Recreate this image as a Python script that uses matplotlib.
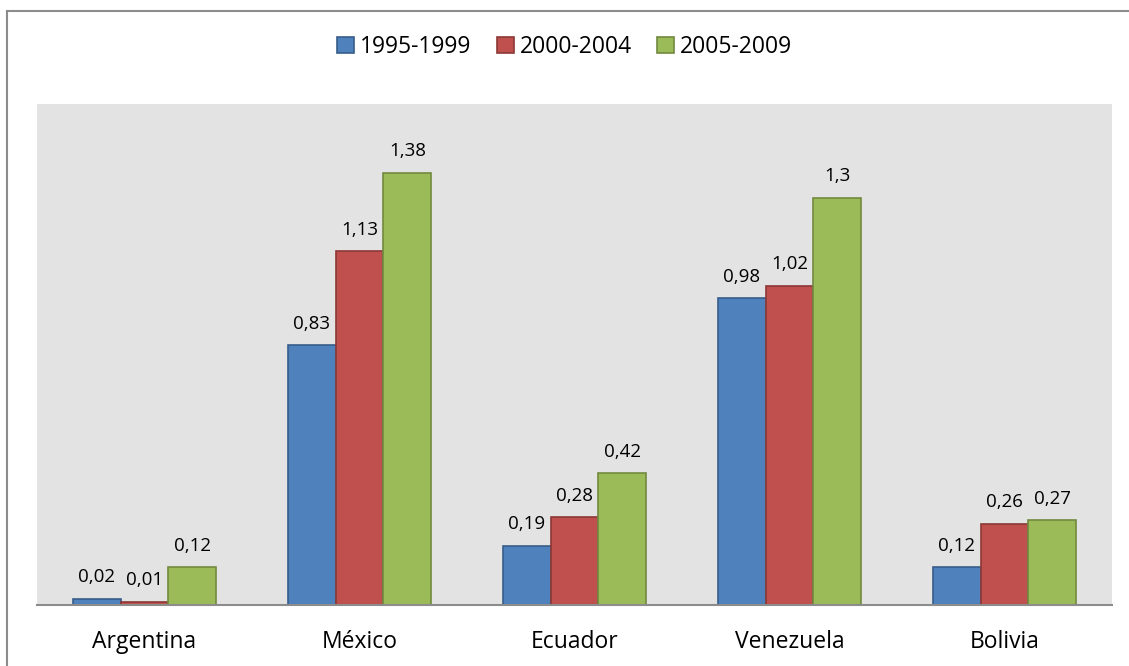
import numpy as np
import matplotlib.pyplot as plt
from matplotlib.lines import Line2D

countries = ['Argentina', 'México', 'Ecuador', 'Venezuela', 'Bolivia']
periods = ['1995-1999', '2000-2004', '2005-2009']
v1995 = [0.02, 0.83, 0.19, 0.98, 0.12]
v2000 = [0.01, 1.13, 0.28, 1.02, 0.26]
v2005 = [0.12, 1.38, 0.42, 1.30, 0.27]

fills = ['#4F81BD', '#C0504D', '#9BBB59']
edges = ['#385D8A', '#8C3836', '#71893F']

plt.rcParams['font.family'] = ['Open Sans', 'DejaVu Sans']

fig = plt.figure(figsize=(11.29, 6.66), dpi=100)
ax = fig.add_axes([37/1129, 1-605/666, 1075/1129, 501/666])
ax.set_facecolor('#E3E3E3')

x = np.arange(len(countries))
w = 0.223
for i, vals in enumerate([v1995, v2000, v2005]):
    bars = ax.bar(x + (i-1)*w, vals, w, color=fills[i], edgecolor=edges[i],
                  linewidth=1.2, label=periods[i])
    for b, v in zip(bars, vals):
        ax.annotate(('%g' % v).replace('.', ','), (b.get_x()+b.get_width()/2, v),
                    xytext=(0, 9), textcoords='offset points',
                    ha='center', va='bottom', fontsize=13.5)

ax.set_xlim(-0.5, 4.5)
ax.set_ylim(0, 1.6)
ax.set_yticks([])
ax.set_xticks(x)
ax.set_xticklabels(countries, fontsize=16.5)
ax.tick_params(axis='x', length=0, pad=18)
for s in ['top', 'right', 'left']:
    ax.spines[s].set_visible(False)
ax.spines['bottom'].set_color('#8C8C8C')
ax.spines['bottom'].set_linewidth(1.5)

fig.legend(loc='center', bbox_to_anchor=(0.5, 1-47/666), ncol=3, frameon=False,
           fontsize=16.5, handlelength=0.75, handleheight=0.75, handletextpad=0.25,
           columnspacing=1.1)

# outer frame (only left and top edges fall inside the picture)
fx, fy = 7/1129, 1-11/666
fig.add_artist(Line2D([fx, fx], [0, fy], transform=fig.transFigure, color='#8C8C8C', lw=1.5))
fig.add_artist(Line2D([fx, 1], [fy, fy], transform=fig.transFigure, color='#8C8C8C', lw=1.5))

fig.savefig('out.png', dpi=100)
